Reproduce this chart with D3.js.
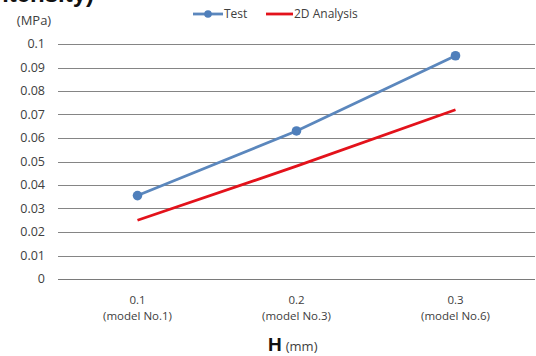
<!DOCTYPE html>
<html>
<head>
<meta charset="utf-8">
<script src="https://cdn.jsdelivr.net/npm/d3@7"></script>
<style>
  body { margin: 0; background: #fff; }
  text { font-family: "Open Sans", "Noto Sans", sans-serif; fill: #404040; }
</style>
</head>
<body>
<svg id="chart" width="536" height="356"></svg>
<script>
// categories on the x axis
const hValues = ["0.1", "0.2", "0.3"];
const modelNames = ["(model No.1)", "(model No.3)", "(model No.6)"];
// series values (MPa)
const testValues = [0.0355, 0.063, 0.095];
const analysisValues = [0.025, 0.048, 0.072];
// y ticks
const yTicks = [0, 0.01, 0.02, 0.03, 0.04, 0.05, 0.06, 0.07, 0.08, 0.09, 0.1];

const svg = d3.select("#chart");

const margin = { left: 58, right: 1, top: 44, bottom: 77 };
const width = 536 - margin.left - margin.right;
const height = 356 - margin.top - margin.bottom;

const x = d3.scaleBand().domain(hValues).range([margin.left, margin.left + width]);
const y = d3.scaleLinear().domain([0, 0.1]).range([margin.top + height, margin.top]);

// cropped title remnant at the very top
svg.append("text")
  .attr("x", 94).attr("y", 2)
  .attr("text-anchor", "end")
  .style("font-family", "Liberation Sans, Arial, sans-serif")
  .style("font-weight", "bold")
  .style("font-size", "24px")
  .style("fill", "#111")
  .text("Intensity)");

// gridlines
svg.append("g")
  .selectAll("line")
  .data(yTicks)
  .enter()
  .append("line")
  .attr("x1", margin.left)
  .attr("x2", margin.left + width)
  .attr("y1", d => Math.round(y(d)) + 0.5)
  .attr("y2", d => Math.round(y(d)) + 0.5)
  .attr("stroke", d => d === 0 ? "#7a7a7a" : "#858585")
  .attr("stroke-width", 1.2);

// y axis labels
svg.append("g")
  .selectAll("text")
  .data(yTicks)
  .enter()
  .append("text")
  .attr("x", 45)
  .attr("y", d => y(d))
  .attr("dy", "0.35em")
  .attr("text-anchor", "end")
  .style("font-size", "12.5px")
  .text(d => d3.format("")(+d.toFixed(2)));

svg.append("text")
  .attr("x", 34).attr("y", 25)
  .attr("text-anchor", "middle")
  .style("font-size", "13px")
  .text("(MPa)");

// x axis labels
const xl = svg.append("g")
  .selectAll("g")
  .data(hValues)
  .enter()
  .append("g")
  .attr("transform", d => "translate(" + (x(d) + x.bandwidth() / 2) + ",0)");

xl.append("text")
  .attr("y", 304)
  .attr("text-anchor", "middle")
  .style("font-size", "11.5px")
  .text(d => d);

xl.append("text")
  .attr("y", 320)
  .attr("text-anchor", "middle")
  .style("font-size", "11.5px")
  .text((d, i) => modelNames[i]);

// x axis title
const xt = svg.append("text")
  .attr("x", 268).attr("y", 351);
xt.append("tspan")
  .style("font-family", "Liberation Sans, Arial, sans-serif")
  .style("font-weight", "bold")
  .style("font-size", "19px")
  .style("fill", "#111")
  .text("H");
xt.append("tspan")
  .attr("dx", 4)
  .style("font-size", "13px")
  .text("(mm)");

const cx = d => x(d) + x.bandwidth() / 2;

const line = d3.line()
  .x((d, i) => cx(hValues[i]))
  .y(d => y(d));

// 2D analysis line
svg.append("path")
  .datum(analysisValues)
  .attr("d", line)
  .attr("fill", "none")
  .attr("stroke", "#e3121b")
  .attr("stroke-width", 2.8);

// test line and markers
svg.append("path")
  .datum(testValues)
  .attr("d", line)
  .attr("fill", "none")
  .attr("stroke", "#5b87bd")
  .attr("stroke-width", 2.8);

svg.append("g")
  .selectAll("circle")
  .data(testValues)
  .enter()
  .append("circle")
  .attr("cx", (d, i) => cx(hValues[i]))
  .attr("cy", d => y(d))
  .attr("r", 4.8)
  .attr("fill", "#4f7fbb");

// legend
const lg = svg.append("g");
lg.append("line")
  .attr("x1", 193).attr("x2", 223).attr("y1", 14).attr("y2", 14)
  .attr("stroke", "#5b87bd").attr("stroke-width", 2.8);
lg.append("circle")
  .attr("cx", 208).attr("cy", 14).attr("r", 3.8).attr("fill", "#4f7fbb");
lg.append("text")
  .attr("x", 224).attr("y", 18)
  .style("font-size", "12px")
  .text("Test");
lg.append("line")
  .attr("x1", 266).attr("x2", 293).attr("y1", 14).attr("y2", 14)
  .attr("stroke", "#e3121b").attr("stroke-width", 2.8);
lg.append("text")
  .attr("x", 294).attr("y", 18)
  .style("font-size", "12px")
  .text("2D Analysis");
</script>
</body>
</html>
